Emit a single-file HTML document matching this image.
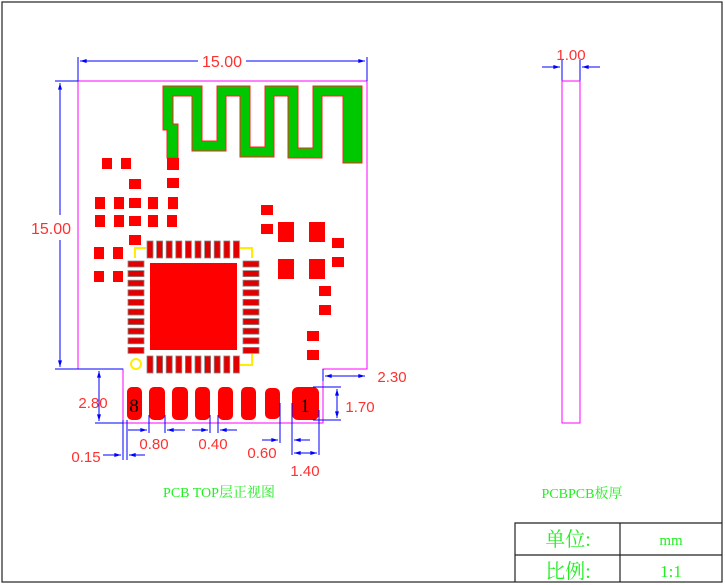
<!DOCTYPE html>
<html><head><meta charset="utf-8"><style>
html,body{margin:0;padding:0;background:#fff;width:725px;height:585px;overflow:hidden}
svg{display:block}
.d{fill:#ff3030;font-family:"Liberation Sans",sans-serif;font-size:15px}
.b{stroke:#0000ff;stroke-width:1;fill:none}
.m{stroke:#ff00ff;stroke-width:1;fill:none}
.r{fill:#ff0000}
.p{fill:#e00000;stroke:#888;stroke-width:0.8}
.g{fill:#22ee22;font-family:"Liberation Serif","Noto Serif CJK SC",serif;font-size:14px}
</style></head><body>
<svg width="725" height="585" viewBox="0 0 725 585" xmlns="http://www.w3.org/2000/svg">
<defs>
<marker id="a" viewBox="0 0 10 6" refX="10" refY="3" markerWidth="8" markerHeight="4" orient="auto-start-reverse" markerUnits="userSpaceOnUse"><path d="M0,0L10,3L0,6z" fill="#0000ff"/></marker>
</defs>
<rect x="2" y="2" width="720" height="580" fill="none" stroke="#333" stroke-width="1.3"/>
<g stroke="#222" stroke-width="1.2" fill="none">
<path d="M515,582V523H722M515,555H722M620,523V582"/>
</g>
<text x="568" y="546" class="g" text-anchor="middle" style="font-size:20px">单位:</text>
<text x="568" y="578" class="g" text-anchor="middle" style="font-size:20px">比例:</text>
<text x="671" y="545" class="g" text-anchor="middle" style="font-size:15px">mm</text>
<text x="671" y="577" class="g" text-anchor="middle" style="font-size:17px">1:1</text>
<text x="219" y="497" class="g" text-anchor="middle">PCB TOP层正视图</text>
<text x="582" y="498" class="g" text-anchor="middle">PCBPCB板厚</text>

<path class="m" d="M78,81H367V369H323V423H123V369H78Z"/>
<path d="M163,86H202V141H217V86H250V147H265V86H298V148H313V86H362V163H343V96H322V158H288V96H274V157H240V96H226V151H192V96H173V124H178V158H167V130H163Z" fill="#00c800" stroke="#ff2020" stroke-width="1"/>
<g class="r">
<rect x="167" y="158" width="12" height="12"/>
<rect x="102" y="158" width="10" height="11"/><rect x="121" y="158" width="10" height="11"/>
<rect x="129" y="179" width="12" height="10"/><rect x="167" y="178" width="12" height="10"/>
<rect x="95" y="197" width="10" height="12"/><rect x="114" y="197" width="10" height="12"/><rect x="129" y="198" width="12" height="10"/><rect x="148" y="197" width="10" height="12"/><rect x="168" y="197" width="10" height="12"/>
<rect x="95" y="215" width="10" height="12"/><rect x="114" y="215" width="10" height="12"/><rect x="129" y="216" width="12" height="10"/><rect x="148" y="215" width="10" height="12"/><rect x="167" y="215" width="10" height="12"/>
<rect x="129" y="235" width="12" height="10"/>
<rect x="261" y="205" width="12" height="10"/><rect x="261" y="224" width="12" height="10"/>
<rect x="278" y="222" width="16" height="20"/><rect x="309" y="222" width="16" height="20"/>
<rect x="332" y="238" width="12" height="10"/>
<rect x="94" y="247" width="10" height="12"/><rect x="113" y="247" width="10" height="12"/>
<rect x="94" y="271" width="10" height="11"/><rect x="113" y="271" width="10" height="11"/>
<rect x="278" y="259" width="16" height="20"/><rect x="309" y="259" width="16" height="20"/>
<rect x="332" y="257" width="12" height="10"/>
<rect x="319" y="286" width="12" height="10"/><rect x="319" y="305" width="12" height="10"/>
<rect x="307" y="331" width="12" height="10"/><rect x="307" y="350" width="12" height="10"/>
<rect x="150" y="263" width="87" height="87"/>
</g>
<g class="p">
<rect x="147" y="241" width="6" height="17"/><rect x="156.6" y="241" width="6" height="17"/><rect x="166.2" y="241" width="6" height="17"/><rect x="175.8" y="241" width="6" height="17"/><rect x="185.4" y="241" width="6" height="17"/><rect x="195" y="241" width="6" height="17"/><rect x="204.6" y="241" width="6" height="17"/><rect x="214.2" y="241" width="6" height="17"/><rect x="223.8" y="241" width="6" height="17"/><rect x="233.4" y="241" width="6" height="17"/>
<rect x="147" y="356" width="6" height="17"/><rect x="156.6" y="356" width="6" height="17"/><rect x="166.2" y="356" width="6" height="17"/><rect x="175.8" y="356" width="6" height="17"/><rect x="185.4" y="356" width="6" height="17"/><rect x="195" y="356" width="6" height="17"/><rect x="204.6" y="356" width="6" height="17"/><rect x="214.2" y="356" width="6" height="17"/><rect x="223.8" y="356" width="6" height="17"/><rect x="233.4" y="356" width="6" height="17"/>
<rect x="128" y="261" width="16" height="6"/><rect x="128" y="270.6" width="16" height="6"/><rect x="128" y="280.2" width="16" height="6"/><rect x="128" y="289.8" width="16" height="6"/><rect x="128" y="299.4" width="16" height="6"/><rect x="128" y="309" width="16" height="6"/><rect x="128" y="318.6" width="16" height="6"/><rect x="128" y="328.2" width="16" height="6"/><rect x="128" y="337.8" width="16" height="6"/><rect x="128" y="347.4" width="16" height="6"/>
<rect x="243" y="261" width="16" height="6"/><rect x="243" y="270.6" width="16" height="6"/><rect x="243" y="280.2" width="16" height="6"/><rect x="243" y="289.8" width="16" height="6"/><rect x="243" y="299.4" width="16" height="6"/><rect x="243" y="309" width="16" height="6"/><rect x="243" y="318.6" width="16" height="6"/><rect x="243" y="328.2" width="16" height="6"/><rect x="243" y="337.8" width="16" height="6"/><rect x="243" y="347.4" width="16" height="6"/>
</g>
<g stroke="#ffee00" stroke-width="2" fill="none">
<path d="M135,258V248H146M240,248H252V258M240,365H252V354"/>
<circle cx="136" cy="364" r="5"/>
</g>
<g class="r">
<rect x="127" y="387" width="15" height="33" rx="5"/><rect x="149" y="387" width="16" height="33" rx="5"/><rect x="172" y="387" width="16" height="33" rx="5"/><rect x="195" y="387" width="15" height="33" rx="5"/><rect x="218" y="387" width="15" height="33" rx="5"/><rect x="241" y="387" width="15" height="33" rx="5"/><rect x="265" y="388" width="15" height="31" rx="5"/><rect x="292" y="387" width="27" height="33" rx="6"/>
</g>
<text x="134" y="412" text-anchor="middle" font-family="Liberation Serif,serif" font-size="19" fill="#000">8</text>
<text x="305" y="412" text-anchor="middle" font-family="Liberation Serif,serif" font-size="19" fill="#000">1</text>

<g class="b">
<path d="M78,57V81M367,57V81M55,81H78M55,369H123M95,423H123"/>
<line x1="198" y1="61" x2="80" y2="61" marker-end="url(#a)"/><line x1="246" y1="61" x2="365" y2="61" marker-end="url(#a)"/>
<line x1="60" y1="215" x2="60" y2="83" marker-end="url(#a)"/><line x1="60" y1="240" x2="60" y2="367" marker-end="url(#a)"/>
<line x1="99" y1="371" x2="99" y2="421" marker-start="url(#a)" marker-end="url(#a)"/>
<path d="M323,369V381"/>
<line x1="325" y1="376" x2="365" y2="376" marker-start="url(#a)" marker-end="url(#a)"/>
<path d="M313,387H341M313,420H341"/>
<line x1="337" y1="389" x2="337" y2="418" marker-start="url(#a)" marker-end="url(#a)"/>
<path d="M292,403V455M319,410V455M280,403V443"/>
<line x1="294" y1="453" x2="317" y2="453" marker-start="url(#a)" marker-end="url(#a)"/>
<line x1="310" y1="440" x2="294" y2="440" marker-end="url(#a)"/>
<line x1="262" y1="440" x2="278" y2="440" marker-end="url(#a)"/>
<path d="M210,415V433M218,415V433M149,415V433M165,415V433M123,420V460M127,420V460"/>
<line x1="192" y1="430" x2="208" y2="430" marker-end="url(#a)"/><line x1="237" y1="430" x2="220" y2="430" marker-end="url(#a)"/>
<line x1="128" y1="430" x2="147" y2="430" marker-end="url(#a)"/><line x1="185" y1="430" x2="167" y2="430" marker-end="url(#a)"/>
<line x1="103" y1="455" x2="121" y2="455" marker-end="url(#a)"/><line x1="145" y1="455" x2="129" y2="455" marker-end="url(#a)"/>
<path d="M562,60V81M580,60V81"/>
<line x1="542" y1="67" x2="560" y2="67" marker-end="url(#a)"/><line x1="600" y1="67" x2="582" y2="67" marker-end="url(#a)"/>
</g>
<rect class="m" x="562" y="81" width="18" height="342"/>
<g class="d">
<text x="222" y="67" text-anchor="middle" style="font-size:16px">15.00</text>
<text x="51" y="234" text-anchor="middle" style="font-size:16px">15.00</text>
<text x="93" y="408" text-anchor="middle">2.80</text>
<text x="392" y="382" text-anchor="middle">2.30</text>
<text x="360" y="412" text-anchor="middle">1.70</text>
<text x="305" y="476" text-anchor="middle">1.40</text>
<text x="262" y="458" text-anchor="middle">0.60</text>
<text x="213" y="449" text-anchor="middle">0.40</text>
<text x="154" y="449" text-anchor="middle">0.80</text>
<text x="86" y="462" text-anchor="middle">0.15</text>
<text x="571" y="60" text-anchor="middle">1.00</text>
</g>
</svg>
</body></html>
